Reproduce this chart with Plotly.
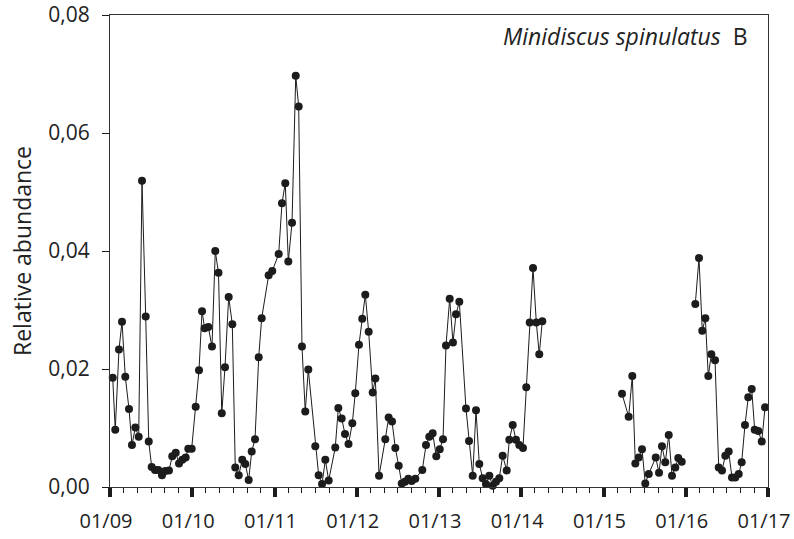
import plotly.graph_objects as go

# Sampling dates as decimal years
years_a = [2009.033, 2009.064, 2009.109, 2009.146, 2009.186, 2009.231, 2009.267, 2009.308, 2009.349, 2009.389,
           2009.434, 2009.471, 2009.507, 2009.547, 2009.587, 2009.632, 2009.672, 2009.717, 2009.757, 2009.799,
           2009.839, 2009.879, 2009.920, 2009.952, 2009.993, 2010.042, 2010.082, 2010.119, 2010.151, 2010.195,
           2010.240, 2010.280, 2010.319, 2010.359, 2010.398, 2010.443, 2010.487, 2010.523, 2010.565, 2010.608,
           2010.645, 2010.686, 2010.723, 2010.763, 2010.808, 2010.844, 2010.929, 2010.973, 2011.051, 2011.091,
           2011.131, 2011.168, 2011.213, 2011.258, 2011.294, 2011.334, 2011.374, 2011.411, 2011.496, 2011.537,
           2011.578, 2011.618, 2011.659, 2011.739, 2011.776, 2011.817, 2011.857, 2011.900, 2011.946, 2011.982,
           2012.027, 2012.067, 2012.104, 2012.145, 2012.194, 2012.226, 2012.271, 2012.347, 2012.388, 2012.429,
           2012.469, 2012.510, 2012.547, 2012.587, 2012.627, 2012.668, 2012.712, 2012.797, 2012.842, 2012.882,
           2012.923, 2012.967, 2013.009, 2013.049, 2013.085, 2013.130, 2013.170, 2013.207, 2013.247, 2013.328,
           2013.365, 2013.410, 2013.450, 2013.490, 2013.531, 2013.571, 2013.612, 2013.653, 2013.693, 2013.733,
           2013.774, 2013.823, 2013.855, 2013.896, 2013.936, 2013.976, 2014.021, 2014.061, 2014.103, 2014.143,
           2014.183, 2014.219, 2014.256]
values_a = [0.0185, 0.0097, 0.0233, 0.0280, 0.0187, 0.0132, 0.0071, 0.0101, 0.0085, 0.0519,
            0.0289, 0.0077, 0.0034, 0.0029, 0.0029, 0.0020, 0.0027, 0.0028, 0.0052, 0.0058,
            0.0040, 0.0046, 0.0050, 0.0065, 0.0065, 0.0136, 0.0198, 0.0298, 0.0269, 0.0271,
            0.0238, 0.0400, 0.0363, 0.0125, 0.0203, 0.0322, 0.0276, 0.0033, 0.0020, 0.0046,
            0.0039, 0.0012, 0.0060, 0.0081, 0.0220, 0.0286, 0.0359, 0.0366, 0.0395, 0.0481,
            0.0515, 0.0382, 0.0448, 0.0697, 0.0645, 0.0238, 0.0128, 0.0199, 0.0069, 0.0020,
            0.0005, 0.0046, 0.0011, 0.0067, 0.0134, 0.0116, 0.0090, 0.0073, 0.0108, 0.0159,
            0.0241, 0.0285, 0.0326, 0.0263, 0.0160, 0.0184, 0.0019, 0.0081, 0.0118, 0.0111,
            0.0066, 0.0036, 0.0006, 0.0009, 0.0014, 0.0010, 0.0014, 0.0029, 0.0071, 0.0085,
            0.0091, 0.0052, 0.0064, 0.0081, 0.0240, 0.0319, 0.0245, 0.0293, 0.0314, 0.0133,
            0.0078, 0.0019, 0.0130, 0.0039, 0.0015, 0.0005, 0.0019, 0.0002, 0.0009, 0.0015,
            0.0053, 0.0028, 0.0080, 0.0105, 0.0080, 0.0071, 0.0066, 0.0169, 0.0279, 0.0371,
            0.0279, 0.0225, 0.0281]

years_b = [2015.225, 2015.306, 2015.350, 2015.387, 2015.428, 2015.468, 2015.508, 2015.550, 2015.635,
           2015.675, 2015.711, 2015.751, 2015.793, 2015.833, 2015.873, 2015.909, 2015.951]
values_b = [0.0158, 0.0119, 0.0188, 0.0040, 0.0050, 0.0064, 0.0006, 0.0022, 0.0050,
            0.0024, 0.0069, 0.0042, 0.0088, 0.0019, 0.0033, 0.0049, 0.0043]

years_c = [2016.116, 2016.161, 2016.201, 2016.238, 2016.274, 2016.311, 2016.356, 2016.401, 2016.441,
           2016.481, 2016.522, 2016.562, 2016.602, 2016.644, 2016.680, 2016.720, 2016.760, 2016.802,
           2016.838, 2016.882, 2016.924, 2016.964]
values_c = [0.0310, 0.0388, 0.0265, 0.0286, 0.0188, 0.0225, 0.0215, 0.0033, 0.0028,
            0.0053, 0.0060, 0.0016, 0.0016, 0.0022, 0.0042, 0.0105, 0.0152, 0.0166,
            0.0097, 0.0095, 0.0077, 0.0135]

x_tick_vals = [2009, 2010, 2011, 2012, 2013, 2014, 2015, 2016, 2017]
x_tick_text = ["01/09", "01/10", "01/11", "01/12", "01/13", "01/14", "01/15", "01/16", "01/17"]
y_tick_vals = [0.00, 0.02, 0.04, 0.06, 0.08]

FONT = "Open Sans"
INK = "#1c1c1c"
TXT = "#222222"

fig = go.Figure()
for xs, ys in [(years_a, values_a), (years_b, values_b), (years_c, values_c)]:
    fig.add_trace(go.Scatter(
        x=xs, y=ys, mode="lines+markers",
        line=dict(color=INK, width=1),
        marker=dict(color=INK, size=8, symbol="circle"),
        cliponaxis=False, showlegend=False,
    ))

fig.update_layout(
    width=794, height=539,
    margin=dict(l=110, r=26, t=15, b=52, autoexpand=False),
    paper_bgcolor="white", plot_bgcolor="white",
    separators=",.",
    font=dict(family=FONT, color=TXT),
    showlegend=False,
    annotations=[dict(
        text="<i>Minidiscus spinulatus</i>  B",
        xref="paper", yref="paper", x=0.972, y=0.955,
        xanchor="right", yanchor="middle", showarrow=False,
        font=dict(family=FONT, size=23, color=TXT),
    )],
)

fig.update_xaxes(
    range=[2009, 2017], automargin=False,
    tickmode="array", tickvals=x_tick_vals, ticktext=x_tick_text,
    ticks="outside", ticklen=9, tickwidth=4, tickcolor=INK,
    tickfont=dict(family=FONT, size=20, color=TXT),
    ticklabelstandoff=7, ticklabelshift=-4,
    ticklabeloverflow="allow",
    showline=True, linecolor="#333333", linewidth=1.2, mirror=True,
    showgrid=False, zeroline=False,
    minor=dict(tickmode="linear", tick0=2009, dtick=1/6, ticks="outside",
               ticklen=5, tickwidth=1, tickcolor=INK, showgrid=False),
)
fig.update_yaxes(
    range=[0, 0.08], automargin=False,
    tickmode="array", tickvals=y_tick_vals, tickformat=".2f",
    ticks="outside", ticklen=7, tickwidth=1, tickcolor=INK,
    tickfont=dict(family=FONT, size=21, color=TXT),
    ticklabelstandoff=8, ticklabeloverflow="allow",
    showline=True, linecolor="#333333", linewidth=1.2, mirror=True,
    showgrid=False, zeroline=False,
    title=dict(text="Relative abundance", font=dict(family=FONT, size=23, color=TXT), standoff=10),
)

fig.write_html("out.html")
